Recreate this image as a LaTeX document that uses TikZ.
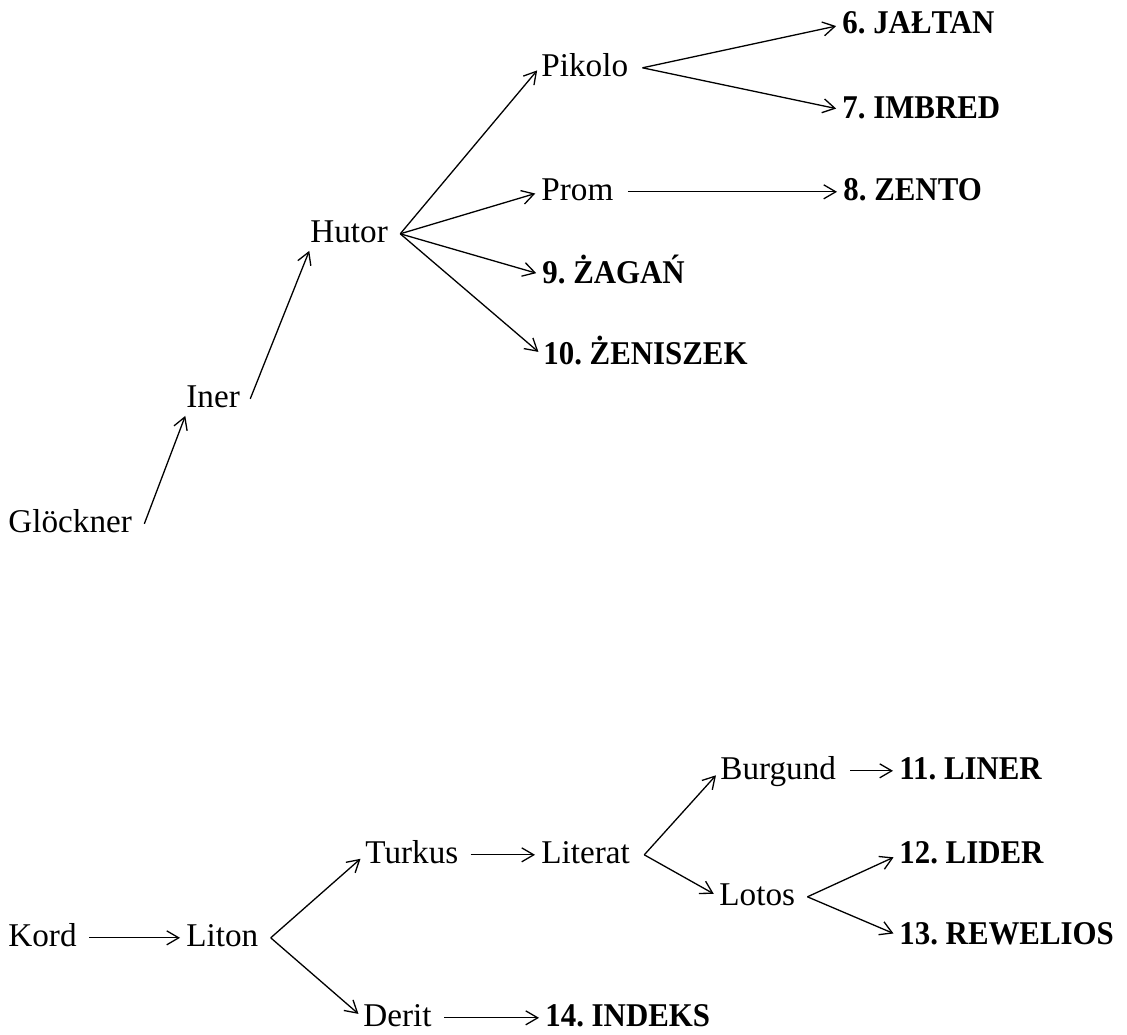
\documentclass[tikz,border=0pt]{standalone}
\usepackage{fontspec}
\setmainfont{Liberation Serif}[BoldFeatures={FakeStretch=0.93}]
\usetikzlibrary{arrows.meta}
\frenchspacing

\tikzset{
  word/.style={inner sep=0pt, anchor=base west, text height=11.5pt, text depth=3.3pt,
    font=\fontsize{16.6}{20}\selectfont},
  goal/.style={word, font=\fontsize{16.6}{20}\selectfont\bfseries},
  link/.style={-{Straight Barb[length=6pt,width=7pt]}, line width=0.65pt, shorten >=3pt},
}

\begin{document}
\begin{tikzpicture}[x=0.5pt, y=-0.5pt]
\useasboundingbox (0,0) rectangle (1127,1034);
% first tree
\node[word] (glockner) at (8,532) {Glöckner};
\node[word] (iner) at (186,407) {Iner};
\node[word] (hutor) at (310,242) {Hutor};
\node[word] (pikolo) at (541,76) {Pikolo};
\node[word] (prom) at (541,200) {Prom};
\node[goal] (jaltan) at (842,33) {6. JAŁTAN};
\node[goal] (imbred) at (842,118) {7. IMBRED};
\node[goal] (zento) at (843,200) {8. ZENTO};
\node[goal] (zagan) at (542,283) {9. ŻAGAŃ};
\node[goal] (zeniszek) at (543,364) {10. ŻENISZEK};
\draw[link, shorten >=1pt] ([xshift=6pt]glockner.east) -- (iner.south west);
\draw[link, shorten >=1pt] ([xshift=5pt]iner.east) -- (hutor.south west);
\draw[link] ([xshift=6pt]hutor.east) -- ([yshift=1pt]pikolo.west);
\draw[link] ([xshift=6pt]hutor.east) -- (prom.west);
\draw[link] ([xshift=6pt]hutor.east) -- (zagan.west);
\draw[link] ([xshift=6pt]hutor.east) -- (zeniszek.west);
\draw[link] ([xshift=7pt]pikolo.east) -- (jaltan.west);
\draw[link] ([xshift=7pt]pikolo.east) -- (imbred.west);
\draw[link] ([xshift=7pt]prom.east) -- (zento.west);
% second tree
\node[word] (kord) at (8,946) {Kord};
\node[word] (liton) at (186,946) {Liton};
\node[word] (turkus) at (365,863) {Turkus};
\node[word] (derit) at (363,1026) {Derit};
\node[word] (literat) at (541,863) {Literat};
\node[goal] (indeks) at (545,1026) {14. INDEKS};
\node[word] (burgund) at (720,779) {Burgund};
\node[word] (lotos) at (719,905) {Lotos};
\node[goal] (liner) at (899,779) {11. LINER};
\node[goal] (lider) at (899,863) {12. LIDER};
\node[goal] (rewelios) at (899,944) {13. REWELIOS};
\draw[link] ([xshift=6pt]kord.east) -- (liton.west);
\draw[link] ([xshift=6pt]liton.east) -- (turkus.west);
\draw[link] ([xshift=6pt]liton.east) -- (derit.west);
\draw[link] ([xshift=6pt]turkus.east) -- (literat.west);
\draw[link] ([xshift=6pt]derit.east) -- (indeks.west);
\draw[link] ([xshift=7pt]literat.east) -- (burgund.west);
\draw[link] ([xshift=7pt]literat.east) -- (lotos.west);
\draw[link] ([xshift=7pt]burgund.east) -- (liner.west);
\draw[link] ([xshift=6pt]lotos.east) -- (lider.west);
\draw[link] ([xshift=6pt]lotos.east) -- (rewelios.west);
\end{tikzpicture}
\end{document}
